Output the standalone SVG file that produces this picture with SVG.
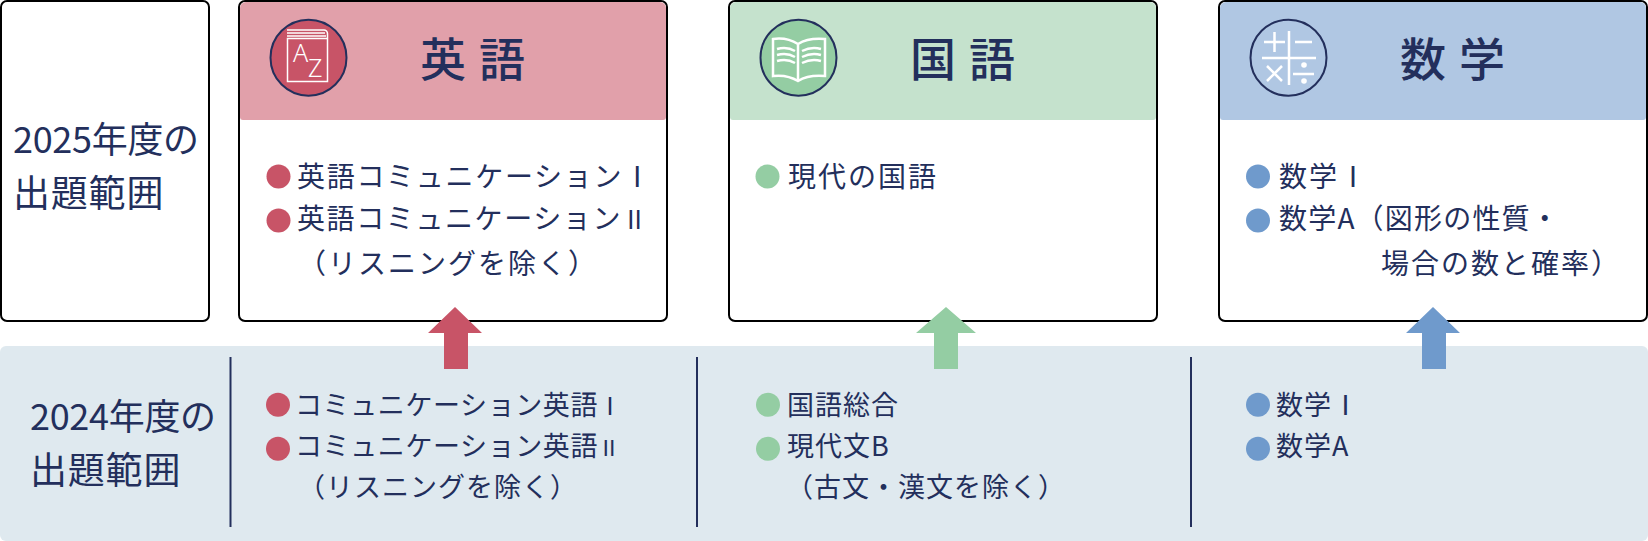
<svg xmlns="http://www.w3.org/2000/svg" width="1648" height="541" viewBox="0 0 1648 541">
<style>
text{font-family:"Noto Sans CJK JP","Noto Sans",sans-serif;fill:#232f5c}
.box{fill:#fff;stroke:#000;stroke-width:2}
.h{font-size:46px;font-weight:500;letter-spacing:13px}
.l{font-size:36px;letter-spacing:-.3px}
.l2{font-size:37px;letter-spacing:.8px}
.t{font-size:28px;letter-spacing:2px}
.b{font-size:27px;letter-spacing:1px}
.ic{fill:none;stroke:#fff;stroke-width:2.5}
.thin{fill:none;stroke:#fff;stroke-width:1.5}
.ring{stroke:#232f5c;stroke-width:2}
.div{stroke:#232f5c;stroke-width:2}
.az{font-family:"Noto Sans",sans-serif;font-size:25px;font-weight:300;fill:#fff}
.red{fill:#c85467}.grn{fill:#94cda3}.blu{fill:#6f9acc}
</style>
<rect id="band" x="0" y="346" width="1648" height="195" rx="6" fill="#dfe9ef"/>
<g id="label-2025">
<rect class="box" x="1" y="1" width="208" height="320" rx="6"/>
<text class="l" x="13" y="153">2025年度の</text>
<text class="l2" x="13" y="207">出題範囲</text>
</g>
<g id="english">
<rect class="box" x="239" y="1" width="428" height="320" rx="6"/>
<path d="M240 8a6 6 0 0 1 6-6H660a6 6 0 0 1 6 6V117a3 3 0 0 1-3 3H243a3 3 0 0 1-3-3Z" fill="#e1a0aa"/>
<circle class="red ring" cx="308.500" cy="57.700" r="38"/>
<path class="thin" d="M287 30H324a3.500 3.500 0 0 1 3.500 3.500V81.500H287.500V38.500H327.500M287 33H325M287 36H326"/>
<text class="az" x="293" y="62">A</text>
<text class="az" x="308" y="77">Z</text>
<text class="h" x="420" y="76">英語</text>
<circle class="red" cx="278.500" cy="176.500" r="12"/>
<circle class="red" cx="278.500" cy="220.500" r="12"/>
<text class="t" x="297" y="187" style="letter-spacing:1.7px">英語コミュニケーションⅠ</text>
<text class="t" x="297" y="229" style="letter-spacing:1.6px">英語コミュニケーション<tspan font-size="25">Ⅱ</tspan></text>
<text class="t" x="298" y="274">（リスニングを除く）</text>
</g>
<g id="kokugo">
<rect class="box" x="729" y="1" width="428" height="320" rx="6"/>
<path d="M730 8a6 6 0 0 1 6-6H1150a6 6 0 0 1 6 6V117a3 3 0 0 1-3 3H733a3 3 0 0 1-3-3Z" fill="#c5e2cd"/>
<circle class="grn ring" cx="798.500" cy="57.700" r="38"/>
<path class="ic" d="M798 44C790 39 780 38 773 39V76C782 75 790 76 798 81C806 76 814 75 825 76V39C814 38 806 39 798 44ZM798 44V81"/>
<path class="ic" d="M777 49C784 47 790 48 795 51M777 55C784 53 790 54 795 57M777 61C784 59 790 60 795 63M802 51C808 48 814 47 821 49M802 57C808 54 814 53 821 55M802 63C808 60 814 59 821 61" stroke-width="2"/>
<text class="h" x="910" y="76">国語</text>
<circle class="grn" cx="767.500" cy="176.500" r="12"/>
<text class="t" x="788" y="187">現代の国語</text>
</g>
<g id="math">
<rect class="box" x="1219" y="1" width="428" height="320" rx="6"/>
<path d="M1220 8a6 6 0 0 1 6-6H1640a6 6 0 0 1 6 6V117a3 3 0 0 1-3 3H1223a3 3 0 0 1-3-3Z" fill="#b0c7e3"/>
<circle class="ring" fill="none" cx="1288.500" cy="57.700" r="38"/>
<path class="ic" d="M1289 31V85M1262 58H1316M1264 42H1285M1274.500 32V52M1295 42H1312M1267 66L1282 81M1282 66L1267 81M1293 74H1314"/>
<circle cx="1304" cy="65" r="2.800" fill="#fff"/>
<circle cx="1304" cy="81" r="2.800" fill="#fff"/>
<text class="h" x="1400" y="76">数学</text>
<circle class="blu" cx="1258" cy="176.500" r="12"/>
<circle class="blu" cx="1258" cy="220.500" r="12"/>
<text class="t" x="1279" y="187">数学Ⅰ</text>
<text class="t" x="1279" y="229" style="letter-spacing:1.2px">数学A（図形の性質・</text>
<text class="t" x="1381" y="274">場合の数と確率）</text>
</g>
<g id="label-2024">
<text class="l" x="30" y="430">2024年度の</text>
<text class="l2" x="30" y="484">出題範囲</text>
</g>
<g id="old-english">
<circle class="red" cx="278" cy="404.700" r="12"/>
<circle class="red" cx="278" cy="448.700" r="12"/>
<text class="b" x="295" y="415" style="letter-spacing:.6px">コミュニケーション英語<tspan font-size="24">Ⅰ</tspan></text>
<text class="b" x="295" y="456" style="letter-spacing:.6px">コミュニケーション英語<tspan font-size="22">Ⅱ</tspan></text>
<text class="b" x="298" y="497">（リスニングを除く）</text>
</g>
<g id="old-kokugo">
<circle class="grn" cx="768" cy="404.700" r="12"/>
<circle class="grn" cx="768" cy="448.700" r="12"/>
<text class="b" x="787" y="415">国語総合</text>
<text class="b" x="787" y="456">現代文B</text>
<text class="b" x="786" y="497">（古文・漢文を除く）</text>
</g>
<g id="old-math">
<circle class="blu" cx="1258" cy="404.700" r="12"/>
<circle class="blu" cx="1258" cy="448.700" r="12"/>
<text class="b" x="1276" y="415">数学Ⅰ</text>
<text class="b" x="1276" y="456">数学A</text>
</g>
<g id="connectors">
<line class="div" x1="230.500" y1="357" x2="230.500" y2="527"/>
<line class="div" x1="697" y1="357" x2="697" y2="527"/>
<line class="div" x1="1191" y1="357" x2="1191" y2="527"/>
<path class="red" d="M455 307L482 333H468V369H444V333H428Z"/>
<path class="grn" d="M946 307L976 333H958V369H934V333H916Z"/>
<path class="blu" d="M1433 307L1460 333H1446V369H1422V333H1406Z"/>
</g>
</svg>
